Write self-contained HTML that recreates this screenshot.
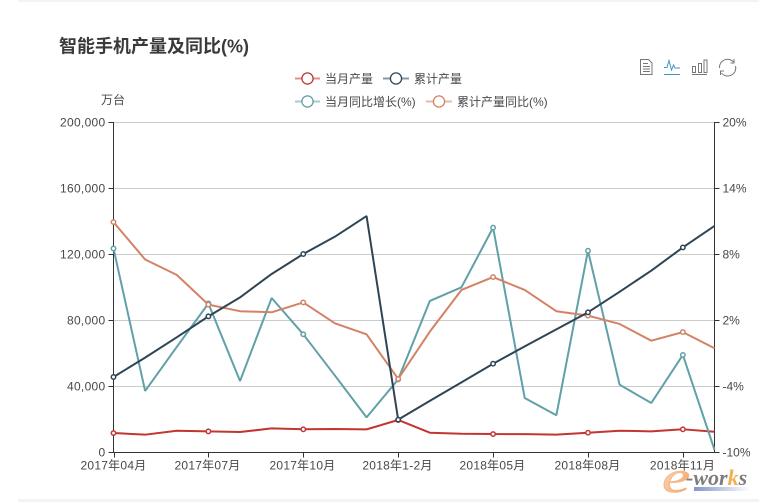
<!DOCTYPE html>
<html>
<head>
<meta charset="utf-8">
<style>
html,body{margin:0;padding:0;background:#fff;}
#wrap{position:relative;width:759px;height:502px;overflow:hidden;background:#fff;}
svg{position:absolute;left:0;top:0;}
text{font-family:"Liberation Sans","Noto Sans CJK SC",sans-serif;}
</style>
</head>
<body>
<div id="wrap">
<svg id="chart" width="759" height="502" viewBox="0 0 759 502">
  <defs>
    <linearGradient id="eGrad" x1="0" y1="0" x2="1" y2="1">
      <stop offset="0" stop-color="#fde3c8"/><stop offset="1" stop-color="#f19a58"/>
    </linearGradient>
    <linearGradient id="barGrad" x1="0" y1="0" x2="1" y2="0">
      <stop offset="0" stop-color="#8296c8"/><stop offset="1" stop-color="#ffffff"/>
    </linearGradient>
  </defs>
  <rect x="18" y="0" width="741" height="2" fill="#f3f3f3"/>
  <rect x="18" y="499" width="741" height="3" fill="#f3f3f3"/>

  <g>
    <rect x="694" y="487" width="56" height="4" fill="url(#barGrad)"/>
    <text transform="translate(662 492) scale(1.45 1)" x="0" y="0" font-size="44" font-style="italic" style="font-family:'Liberation Serif',serif" fill="url(#eGrad)" stroke="#f5b483" stroke-width=".6">e</text>
    <text x="686" y="485" font-size="22" font-weight="bold" font-style="italic" style="font-family:'Liberation Serif',serif" fill="#7d7d7d">-wor<tspan fill="#f2b04e">k</tspan>s</text>
  </g>

  <text x="59" y="52.500" font-size="18" font-weight="bold" fill="#3a3a3a">智能手机产量及同比(%)</text>

  <g id="legend">
    <g>
      <line x1="295" x2="320" y1="78.5" y2="78.5" stroke="#c23531" stroke-width="2" opacity=".55"/>
      <circle cx="307.5" cy="78.5" r="5.600" fill="#fff" stroke="#c23531" stroke-width="1.300"/>
      <text x="325" y="83" font-size="12" fill="#484848">当月产量</text>
    </g>
    <g>
      <line x1="383" x2="409" y1="78.5" y2="78.5" stroke="#2f4554" stroke-width="2" opacity=".55"/>
      <circle cx="396" cy="78.5" r="5.600" fill="#fff" stroke="#2f4554" stroke-width="1.300"/>
      <text x="414" y="83" font-size="12" fill="#484848">累计产量</text>
    </g>
    <g>
      <line x1="295" x2="320" y1="101.5" y2="101.5" stroke="#61a0a8" stroke-width="2" opacity=".55"/>
      <circle cx="307.5" cy="101.5" r="5.600" fill="#fff" stroke="#61a0a8" stroke-width="1.300"/>
      <text x="325" y="106" font-size="12" fill="#484848">当月同比增长(%)</text>
    </g>
    <g>
      <line x1="426" x2="452" y1="101.5" y2="101.5" stroke="#d48265" stroke-width="2" opacity=".55"/>
      <circle cx="439" cy="101.5" r="5.600" fill="#fff" stroke="#d48265" stroke-width="1.300"/>
      <text x="457" y="106" font-size="12" fill="#484848">累计产量同比(%)</text>
    </g>
  </g>

  <g fill="none" stroke="#777" stroke-width="1">
    <path d="M640.5 59.5h8l3.5 3.5v11.500h-11.500z"/>
    <path d="M643 63.500h5M643 66.500h7M643 69h7M643 71.500h7"/>
  </g>
  <g fill="none" stroke="#3e98c5" stroke-width="1">
    <path d="M664 67.500h3l2-7 2.500 9.500 2-5 1.500 3h5"/>
    <path d="M664 74.500h16"/>
  </g>
  <g fill="none" stroke="#777" stroke-width="1">
    <path d="M692.500 66.500h3v6h-3zM698.500 63.500h3v9h-3zM704 60h3v12.500h-3z"/>
    <path d="M692 74.500h15"/>
  </g>
  <g fill="none" stroke="#777" stroke-width="1">
    <path d="M719.500 68a8 8 0 0 1 14-6"/>
    <path d="M735.500 66a8 8 0 0 1-14 7"/>
    <path d="M734 59v4h-3.500M720.500 75v-4h3.500"/>
  </g>

  <text x="113" y="104" font-size="12" fill="#484848" text-anchor="middle">万台</text>

  <g id="grid"></g>
  <g id="axes"></g>
  <g id="series"></g>
</svg>
</div>
<script>
var categories = ['2017年04月','2017年05月','2017年06月','2017年07月','2017年08月','2017年09月','2017年10月','2017年11月','2017年12月','2018年1-2月','2018年03月','2018年04月','2018年05月','2018年06月','2018年07月','2018年08月','2018年09月','2018年10月','2018年11月','2018年12月'];
var monthlyOutput = [11500,10500,12900,12500,12100,14300,13750,13900,13700,19400,11700,11100,10900,10800,10500,11700,12900,12500,13750,12300];
var cumulativeOutput = [45450,57200,69500,82200,93700,107900,120000,130500,143000,19600,31000,42200,53500,64000,74300,84650,97100,109900,124000,137000];
var monthlyYoy = [8.5,-4.45,-0.45,3.5,-3.55,4,0.7,-3.05,-6.85,-3.4,3.73,4.97,10.4,-5.09,-6.66,8.3,-3.88,-5.55,-1.18,-9.8];
var cumulativeYoy = [10.9,7.5,6.1,3.4,2.8,2.7,3.6,1.7,0.7,-3.36,0.94,4.73,5.9,4.73,2.8,2.4,1.64,0.12,0.9,-0.57];
var leftTicks = [0,40000,80000,120000,160000,200000];
var rightTicks = [-10,-4,2,8,14,20];
var xLabelEvery = 3;

var NS = 'http://www.w3.org/2000/svg';
var plotLeft = 113.5, plotRight = 714.5, plotTop = 122, plotBottom = 452;
var leftMin = leftTicks[0], leftMax = leftTicks[leftTicks.length - 1];
var rightMin = rightTicks[0], rightMax = rightTicks[rightTicks.length - 1];
var labelColor = '#484848';

function xScale(i) {
  return plotLeft + i * (plotRight - plotLeft) / (categories.length - 1);
}
function yLeft(v) {
  return plotBottom - (v - leftMin) / (leftMax - leftMin) * (plotBottom - plotTop);
}
function yRight(v) {
  return plotBottom - (v - rightMin) / (rightMax - rightMin) * (plotBottom - plotTop);
}
function make(tag, attrs, parent) {
  var el = document.createElementNS(NS, tag);
  for (var k in attrs) { el.setAttribute(k, attrs[k]); }
  parent.appendChild(el);
  return el;
}
function fmt(v) {
  return String(v).replace(/\B(?=(\d{3})+$)/g, ',');
}

var gridG = document.getElementById('grid');
var axesG = document.getElementById('axes');
var seriesG = document.getElementById('series');

leftTicks.forEach(function (t, i) {
  var y = Math.round(yLeft(t)) + 0.5;
  if (t !== leftMin) {
    var g = make('line', {x1: plotLeft, x2: plotRight, y1: y, y2: y, stroke: '#ccc', 'stroke-width': 1}, gridG);
    
    
  }
  var tl = make('line', {x1: plotLeft - 5, x2: plotLeft, y1: y, y2: y, stroke: '#333', 'stroke-width': 1}, axesG);
  
  
  var lab = make('text', {x: plotLeft - 8, y: y + 4, 'font-size': 12, fill: labelColor, 'text-anchor': 'end', 'letter-spacing': 0.3}, axesG);
  
  
  lab.textContent = fmt(t);

  var yr = Math.round(yRight(rightTicks[i])) + 0.5;
  var tr = make('line', {x1: plotRight, x2: plotRight + 5, y1: yr, y2: yr, stroke: '#333', 'stroke-width': 1}, axesG);
  
  
  var labR = make('text', {x: plotRight + 8, y: yr + 4, 'font-size': 12, fill: labelColor}, axesG);
  
  
  labR.textContent = rightTicks[i] + '%';
});

var axisY = Math.round(yLeft(leftMin)) + 0.5;
var leftLine = make('line', {x1: plotLeft, x2: plotLeft, y1: plotTop, y2: axisY, stroke: '#333', 'stroke-width': 1}, axesG);


var rightLine = make('line', {x1: plotRight, x2: plotRight, y1: plotTop, y2: axisY, stroke: '#333', 'stroke-width': 1}, axesG);


var xLine = make('line', {x1: plotLeft, x2: plotRight, y1: axisY, y2: axisY, stroke: '#333', 'stroke-width': 1}, axesG);



categories.forEach(function (c, i) {
  if (i % xLabelEvery !== 0) { return; }
  var x = Math.round(xScale(i)) + 0.5;
  var t = make('line', {x1: x, x2: x, y1: axisY, y2: axisY + 5, stroke: '#333', 'stroke-width': 1}, axesG);
  
  
  var lab = make('text', {x: x - 1, y: axisY + 17, 'font-size': 12, fill: labelColor, 'text-anchor': 'middle', 'letter-spacing': 0.25}, axesG);
  
  
  lab.textContent = c;
});

function drawSeries(values, scale, color, name) {
  var pts = values.map(function (v, i) { return xScale(i).toFixed(2) + ',' + scale(v).toFixed(2); }).join(' ');
  var g = make('g', {}, seriesG);
  
  
  var line = make('polyline', {points: pts, fill: 'none', stroke: color, 'stroke-width': 2, 'stroke-linejoin': 'bevel'}, g);
  
  
  values.forEach(function (v, i) {
    if (i % xLabelEvery !== 0) { return; }
    var c = make('circle', {cx: xScale(i), cy: scale(v), r: 2.2, fill: '#fff', stroke: color, 'stroke-width': 1.5}, g);
    
    
  });
}

drawSeries(monthlyOutput, yLeft, '#c23531', 'series-monthly-output');
drawSeries(monthlyYoy, yRight, '#61a0a8', 'series-monthly-yoy');
drawSeries(cumulativeYoy, yRight, '#d48265', 'series-cumulative-yoy');
drawSeries(cumulativeOutput, yLeft, '#2f4554', 'series-cumulative-output');
</script>
</body>
</html>
